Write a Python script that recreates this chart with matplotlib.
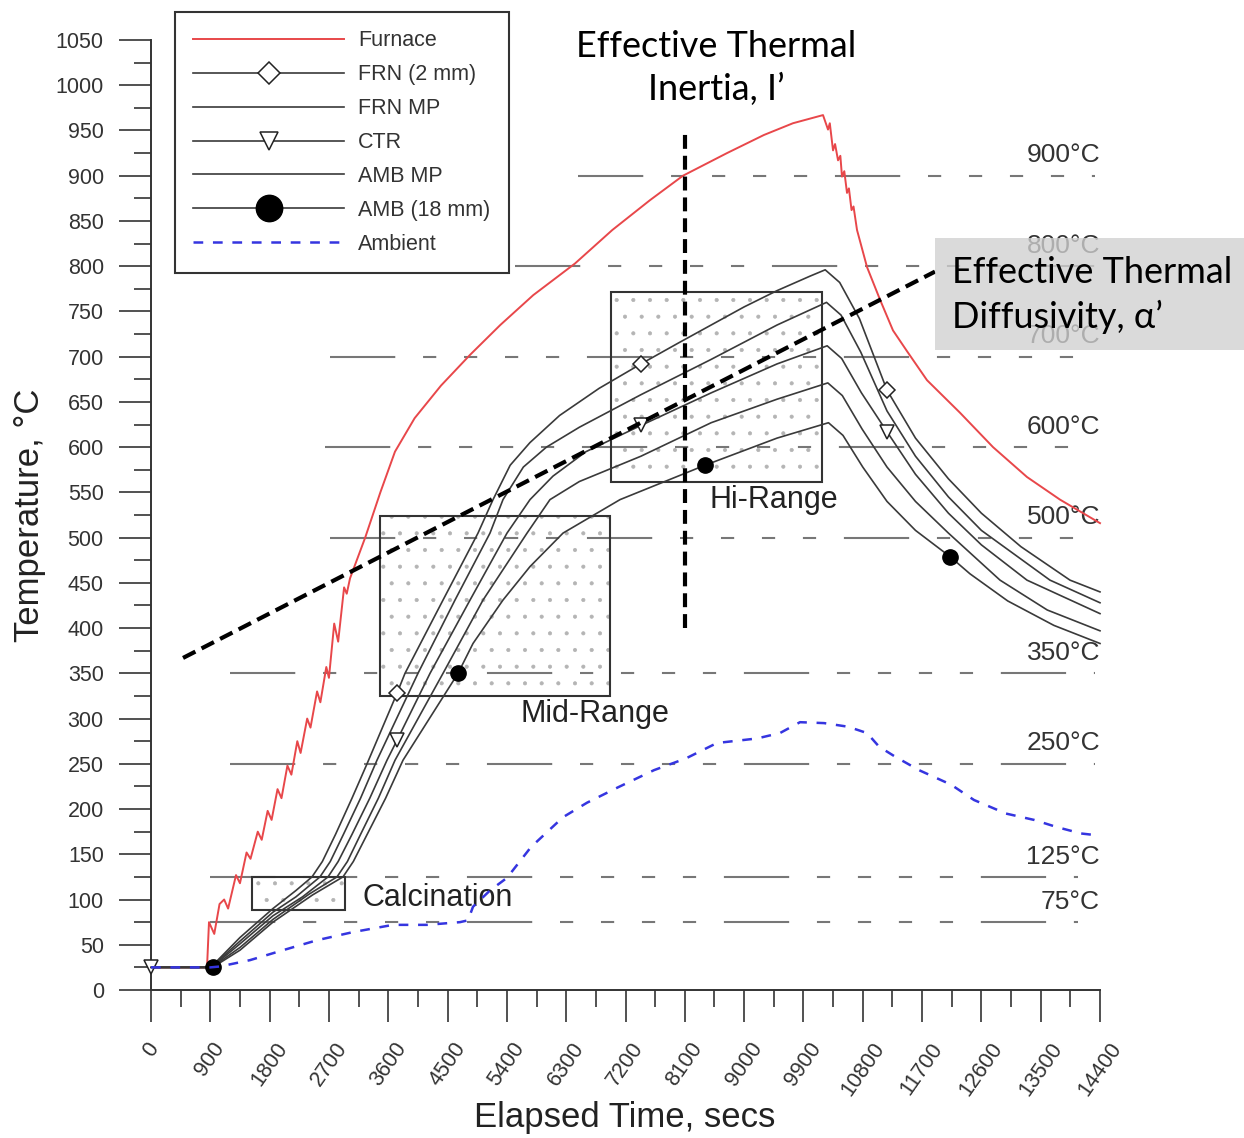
import numpy as np
import matplotlib
matplotlib.use('Agg')
from matplotlib import pyplot as plt
from matplotlib.patches import Rectangle

plt.rcParams['font.family'] = ['Liberation Sans', 'DejaVu Sans']
plt.rcParams['lines.scale_dashes'] = False
plt.rcParams['hatch.linewidth'] = 0.5

# ---- data (time in s, temperature in degC) ----
furnace_t = [0, 850, 880, 960, 1040, 1110, 1170, 1290, 1350, 1450, 1510, 1620, 1680,
             1770, 1830, 1920, 1980, 2070, 2130, 2220, 2270, 2370, 2420, 2520, 2570,
             2660, 2700, 2780, 2840, 2930, 2970, 3020, 3250, 3480, 3702, 4000, 4400,
             4841, 5300, 5800, 6434, 7000, 7572, 8072, 8740, 9300, 9741, 10197, 10273,
             10300, 10349, 10380, 10425, 10460, 10485, 10520, 10561, 10590, 10630,
             10660, 10713, 10865, 11062, 11259, 11472, 11775, 12276, 12777, 13292,
             13793, 14400]
furnace_T = [25, 25, 75, 62, 95, 100, 90, 127, 118, 152, 145, 175, 166,
             198, 188, 222, 212, 248, 238, 275, 262, 300, 290, 330, 318,
             357, 345, 405, 385, 445, 438, 455, 500, 550, 595, 632, 668,
             702, 735, 768, 803, 840, 873, 900, 925, 945, 958, 967, 951,
             958, 928, 935, 917, 922, 899, 905, 881, 886, 862,
             866, 840, 799, 763, 729, 706, 674, 638, 600, 567,
             542, 516]

frn_t = [0, 900, 1000, 1350, 1850, 2200, 2443, 2600, 2800, 3050, 3278, 3733, 3854, 4431,
         4962, 5190, 5450, 5750, 6200, 6800, 7435, 8000, 8500, 9000, 9500, 10000, 10230,
         10450, 10750, 11168, 11600, 12100, 12600, 13200, 13945, 14400]
frn_T = [25, 25, 32, 58, 90, 110, 125, 142, 172, 212, 250, 328, 350, 431,
         505, 542, 580, 605, 635, 665, 692, 715, 735, 755, 773, 789, 796,
         782, 742, 663, 610, 565, 527, 490, 453, 440]

frn_mp_t = [0, 900, 1000, 1350, 1850, 2200, 2564, 2720, 2920, 3180, 3429, 3733, 4051,
            4613, 5144, 5341, 5650, 6000, 6500, 7435, 8500, 9500, 10250, 10470, 10770,
            11168, 11600, 12100, 12600, 13641, 14400]
frn_mp_T = [25, 25, 31, 54, 86, 103, 125, 142, 172, 212, 254, 301, 350,
            431, 505, 542, 578, 600, 622, 658, 697, 735, 760, 746, 705,
            640, 590, 545, 508, 453, 428]

ctr_t = [0, 900, 1000, 1350, 1850, 2300, 2686, 2840, 3050, 3320, 3581, 3733, 4234,
         4841, 5402, 5751, 6100, 6600, 7435, 8500, 9500, 10260, 10480, 10780, 11168,
         11600, 12100, 12600, 13292, 14400]
ctr_T = [25, 25, 30, 51, 82, 103, 125, 142, 172, 212, 254, 276, 350,
         431, 505, 542, 568, 595, 624, 660, 692, 712, 698, 660, 617,
         570, 527, 492, 453, 416]

amb_mp_t = [0, 900, 1000, 1350, 1850, 2400, 2822, 2980, 3180, 3450, 3703, 4431, 5038,
            5706, 6054, 6500, 7435, 8500, 9500, 10270, 10490, 10790, 11168, 11600,
            12100, 12883, 13600, 14400]
amb_mp_T = [25, 25, 29, 47, 78, 106, 125, 142, 172, 212, 254, 350, 431,
            505, 542, 562, 590, 627, 653, 671, 657, 620, 578, 540,
            505, 453, 420, 397]

amb_t = [0, 941, 1000, 1350, 1850, 2450, 2913, 3070, 3280, 3560, 3824, 4659, 4886,
         5341, 5751, 6252, 7117, 8406, 9500, 10280, 10500, 10800, 11168, 11600, 12124,
         12427, 13000, 13700, 14400]
amb_T = [25, 25, 28, 44, 75, 105, 125, 142, 172, 212, 254, 350, 383,
         431, 468, 505, 542, 580, 610, 627, 613, 578, 540, 508, 479,
         460, 430, 403, 383]

ambient_t = [0, 900, 1047, 1502, 2003, 2519, 3065, 3672, 4188, 4689, 4810, 4886, 5144,
             5402, 5766, 6252, 6616, 7086, 7633, 8118, 8588, 9195, 9544, 9848, 10212,
             10576, 10865, 11047, 11289, 11654, 12139, 12488, 12974, 13399, 13748,
             14112, 14354, 14400]
ambient_T = [25, 25, 26, 33, 44, 55, 64, 72, 72, 75, 77, 92, 110,
             124, 158, 191, 207, 224, 243, 256, 273, 278, 284, 296, 295,
             291, 284, 269, 258, 243, 227, 210, 195, 188, 180,
             173, 171, 171]

# marker times on the thermocouple curves
frn_marks = [3733, 7435, 11168]
ctr_marks = [0, 3733, 7435, 11168]
amb_marks = [941, 4659, 8406, 12124]

# reference temperature levels
ref_levels = [900, 800, 700, 600, 500, 350, 250, 125, 75]
ref_start = [6480, 5523, 2716, 2640, 2716, 1199, 1199, 895, 895]
ref_end = [14324, 14324, 14324, 14324, 14324, 14324, 14324, 14066, 14066]
ref_labels = ['900°C', '800°C', '700°C', '600°C', '500°C', '350°C', '250°C', '125°C', '75°C']

# shaded ranges: (t0, t1, T0, T1)
range_names = ['Calcination', 'Mid-Range', 'Hi-Range']
range_boxes = [(1533, 2944, 88, 125), (3475, 6965, 325, 524), (6980, 10182, 561, 771)]
range_label_pos = [(3202, 102), (5614, 305), (8482, 542)]

# effective property lines
diffusivity_t = [486, 11896]
diffusivity_T = [367, 794]
inertia_t = [8100, 8100]
inertia_T = [400, 953]

W, H = 1244, 1138
fig = plt.figure(figsize=(W / 100, H / 100), dpi=100)
ax = fig.add_axes([151 / W, 1 - 990 / H, (1100 - 151) / W, (990 - 40) / H])

dark = '#333333'
line_kw = dict(color='#3a3a3a', lw=1.2, clip_on=False, zorder=4)

# reference lines
for lev, a, b in zip(ref_levels, ref_start, ref_end):
    ax.plot([a, b], [lev, lev], color='#777777', lw=1.5,
            dashes=[47, 20, 9.5, 20, 9.5, 20, 9.5, 20, 9.5, 20], zorder=1)
for lev, lab in zip(ref_levels, ref_labels):
    ax.annotate(lab, (14400, lev), xytext=(0, 6), textcoords='offset points',
                ha='right', va='bottom', fontsize=19, color=dark, zorder=2)

# shaded boxes
for (t0, t1, y0, y1) in range_boxes:
    ax.add_patch(Rectangle((t0, y0), t1 - t0, y1 - y0, facecolor='none',
                           edgecolor='#b4b4b4', lw=0, hatch='.', zorder=2))
    ax.add_patch(Rectangle((t0, y0), t1 - t0, y1 - y0, facecolor='none',
                           edgecolor='#333333', lw=1.5, zorder=3))
for name, (tx, ty) in zip(range_names, range_label_pos):
    ax.text(tx, ty, name, fontsize=22, color='#222222', ha='left', va='center', zorder=3)

# curves
ax.plot(furnace_t, furnace_T, color='#e8474a', lw=1.4, label='Furnace', zorder=4, clip_on=False)
ax.plot(frn_t, frn_T, marker='D', ms=8, mfc='white', mec='#222222', mew=1.1,
        markevery=[frn_t.index(m) for m in frn_marks], label='FRN (2 mm)', **line_kw)
ax.plot(frn_mp_t, frn_mp_T, label='FRN MP', **line_kw)
ax.plot(ctr_t, ctr_T, marker='v', ms=10, mfc='white', mec='#222222', mew=1.1,
        markevery=[ctr_t.index(m) for m in ctr_marks], label='CTR', **line_kw)
ax.plot(amb_mp_t, amb_mp_T, label='AMB MP', **line_kw)
ax.plot(amb_t, amb_T, marker='o', ms=11, mfc='black', mec='black',
        markevery=[amb_t.index(m) for m in amb_marks], label='AMB (18 mm)', **line_kw)
ax.plot(ambient_t, ambient_T, color='#3535e0', lw=1.8, dashes=[7, 7],
        label='Ambient', zorder=4, clip_on=False)

# effective property lines
ax.plot(diffusivity_t, diffusivity_T, color='black', lw=3, dashes=[10, 5], zorder=6)
ax.plot(inertia_t, inertia_T, color='black', lw=3, dashes=[10, 5], zorder=6)

# axes styling
ax.set_xlim(0, 14400)
ax.set_ylim(0, 1050)
ax.set_xticks(np.arange(0, 14401, 900))
ax.set_xticks(np.arange(0, 14401, 450), minor=True)
ax.set_yticks(np.arange(0, 1051, 50))
ax.set_yticks(np.arange(0, 1051, 25), minor=True)
for s in ['top', 'right']:
    ax.spines[s].set_visible(False)
for s in ['left', 'bottom']:
    ax.spines[s].set_color(dark)
    ax.spines[s].set_linewidth(1.4)
ax.tick_params(which='major', direction='out', length=23, width=1.2, color=dark,
               labelsize=15.5, labelcolor=dark)
ax.tick_params(which='minor', direction='out', length=12, width=1.2, color=dark)
ax.tick_params(axis='y', which='major', pad=11)
ax.tick_params(axis='x', which='major', pad=12)
plt.setp(ax.get_xticklabels(), rotation=55, ha='center')

fig.text(625 / W, 1 - 1118 / H, 'Elapsed Time, secs', ha='center', va='center',
         fontsize=25, color='#222222')
fig.text(30 / W, 1 - 515 / H, 'Temperature, °C', ha='center', va='center',
         rotation=90, fontsize=25, color='#222222')

leg = ax.legend(loc='upper left', bbox_to_anchor=(175 / W, 1 - 12 / H),
                bbox_transform=fig.transFigure, borderaxespad=0, fontsize=15.5,
                handlelength=7.0, handletextpad=0.65, borderpad=0.85, labelspacing=0.6,
                fancybox=False, framealpha=1, edgecolor=dark)
leg.get_frame().set_linewidth(1.5)
for txt in leg.get_texts():
    txt.set_color(dark)
legend_marker_sizes = [0, 11, 0, 13, 0, 19, 0]
for h, ms in zip(leg.legend_handles, legend_marker_sizes):
    if ms:
        h.set_markersize(ms)

# callouts
fig.text(716 / W, 1 - 68 / H, 'Effective Thermal\nInertia, I\u2019', ha='center',
         va='center', fontsize=26, family='Lato', linespacing=1.38, color='black')
box = Rectangle((935 / W, 1 - 350 / H), (W - 935) / W, 112 / H, transform=fig.transFigure,
                facecolor='#d0d0d0', edgecolor='none', alpha=0.78, zorder=5)
fig.patches.append(box)
fig.text(952 / W, 1 - 295 / H, 'Effective Thermal\nDiffusivity, \u03b1\u2019', ha='left',
         va='center', fontsize=26, family='Lato', linespacing=1.38, color='black', zorder=6)

fig.savefig('out.png', dpi=100)
